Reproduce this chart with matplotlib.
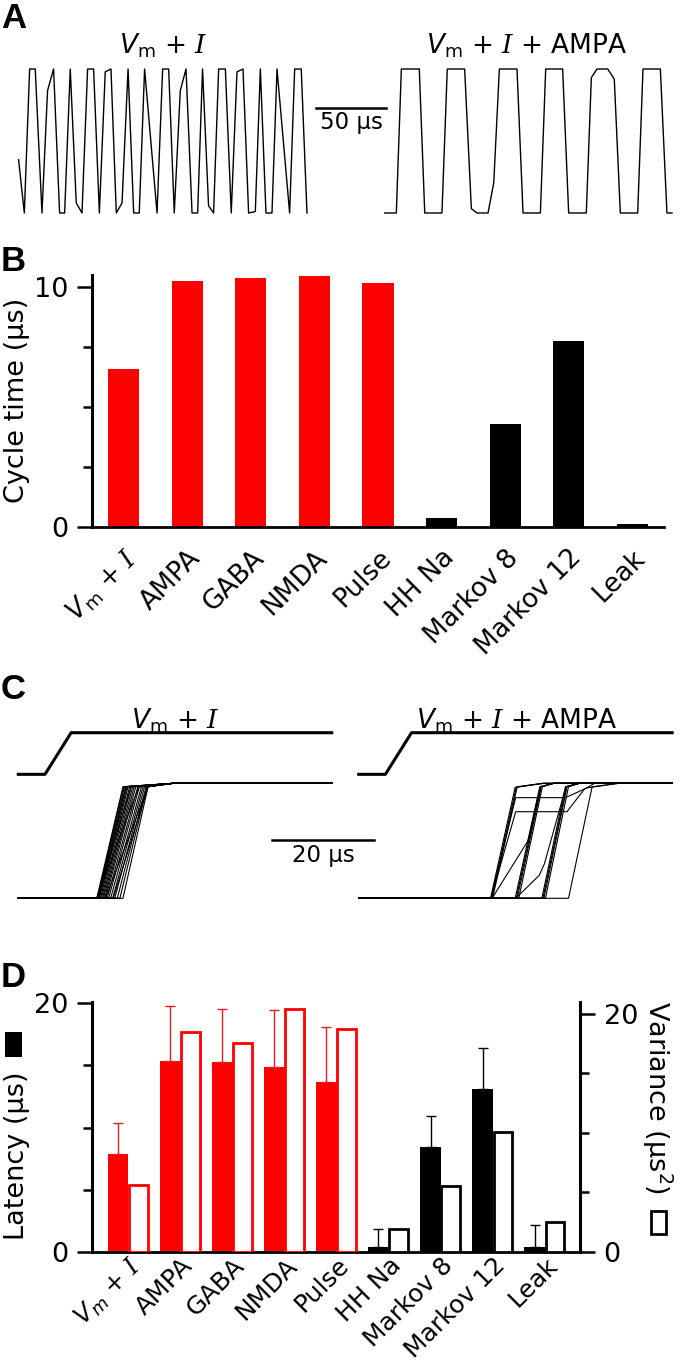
import numpy as np
import matplotlib.pyplot as plt
from matplotlib.patches import Rectangle

plt.rcParams['font.family'] = 'DejaVu Sans'
plt.rcParams['mathtext.fontset'] = 'custom'
plt.rcParams['mathtext.rm'] = 'DejaVu Sans'
plt.rcParams['mathtext.it'] = 'DejaVu Sans:italic'
plt.rcParams['mathtext.sf'] = 'DejaVu Serif:italic'

W, H = 684, 1368

# ---- panel A: oscillation traces (time in us, normalised voltage)
a_left_t = [0.2, 4.3, 8.1, 12.1, 16.9, 20.9, 25.2, 29.5, 33.1, 37.1, 41.4, 45.5, 49.5,
            53.8, 57.9, 62.1, 66.2, 70.0, 74.1, 78.4, 82.4, 86.4, 90.2, 99.1, 103.1,
            107.4, 111.4, 115.7, 119.8, 124.1, 128.1, 131.6, 135.9, 139.5, 143.1, 147.9,
            152.1, 156.2, 160.5, 164.5, 169.3, 172.9, 176.9, 181.2, 184.8, 193.8, 197.4,
            202.1, 206.2]
a_left_v = [0.37, 0, 1, 1, 0, 0.85, 1, 0, 0, 1, 0.07, 0, 1, 1, 0, 0.98, 1, 0, 0.07, 1,
            0, 0, 1, 0, 1, 1, 0, 0.85, 1, 0, 0, 1, 0.05, 0, 1, 1, 0, 0.98, 1, 0, 0.01, 1,
            0, 0, 1, 0, 1, 1, 0]
a_right_t = [0, 8.3, 11.9, 24.7, 28.6, 40.9, 44.7, 57.1, 61.9, 65.9, 73.8, 77.9, 81.9,
             94.5, 98.8, 111.2, 115.0, 127.1, 131.4, 144.0, 147.6, 151.6, 159.3, 164.0,
             168.3, 180.7, 184.5, 196.9, 201.6, 205.2]
a_right_v = [0, 0, 1, 1, 0, 0, 1, 1, 0.03, 0, 0, 0.21, 1, 1, 0, 0, 1, 1, 0, 0, 0.94, 1,
             1, 0.93, 0, 0, 1, 1, 0, 0]

# ---- panel B: cycle time
conditions = ['$V_{\\mathrm{m}}$ + $\\mathsf{I}$', 'AMPA', 'GABA', 'NMDA', 'Pulse',
              'HH Na', 'Markov 8', 'Markov 12', 'Leak']
conditions_d = ['$V_m$ + $\\mathsf{I}$', 'AMPA', 'GABA', 'NMDA', 'Pulse',
                'HH Na', 'Markov 8', 'Markov 12', 'Leak']
cycle_time = [6.56, 10.25, 10.35, 10.46, 10.14, 0.35, 4.26, 7.75, 0.10]

# ---- panel C: voltage step and responses
stim_t = [0, 5.2, 10.3, 61.1]
stim_v = [1.078, 1.078, 1.44, 1.44]
c_left_start = [15.3, 15.3, 15.3, 15.4, 15.5, 15.6, 15.7, 15.8, 16.0, 16.2, 16.4, 16.6,
                16.8, 17.0, 17.3, 17.6, 18.0, 18.4, 18.8, 19.3, 19.8, 20.4, 17.0, 18.5]
c_left_end = [22.0, 23.5, 20.4, 20.5, 20.7, 20.9, 21.0, 21.2, 21.4, 21.7, 22.0, 22.3,
              22.6, 22.9, 23.3, 23.6, 24.0, 24.3, 24.6, 24.9, 25.1, 25.3, 25.3, 25.3]
c_right_traces = [
    [(0, 0), (25.7, 0), (30.5, 0.965), (36.0, 1), (61.1, 1)],
    [(0, 0), (25.9, 0), (30.7, 0.965), (36.0, 1), (61.1, 1)],
    [(0, 0), (26.1, 0), (30.9, 0.97), (36.0, 1), (61.1, 1)],
    [(0, 0), (25.8, 0), (30.6, 0.875), (40.3, 0.875), (44.5, 0.96), (50.7, 1), (61.1, 1)],
    [(0, 0), (25.8, 0), (30.6, 0.753), (40.6, 0.753), (44.0, 0.95), (46.0, 1), (61.1, 1)],
    [(0, 0), (26.0, 0), (33.0, 0.5), (35.4, 0.97), (38.0, 1), (61.1, 1)],
    [(0, 0), (30.5, 0), (35.3, 0.97), (38.0, 1), (61.1, 1)],
    [(0, 0), (30.7, 0), (35.5, 0.97), (38.0, 1), (61.1, 1)],
    [(0, 0), (30.9, 0), (35.6, 0.97), (38.0, 1), (61.1, 1)],
    [(0, 0), (31.2, 0), (35.8, 0.97), (38.0, 1), (61.1, 1)],
    [(0, 0), (30.6, 0), (35.2, 0.2), (36.2, 0.3), (40.4, 0.97), (43.0, 1), (61.1, 1)],
    [(0, 0), (35.7, 0), (40.3, 0.97), (43.0, 1), (61.1, 1)],
    [(0, 0), (35.9, 0), (40.5, 0.97), (43.0, 1), (61.1, 1)],
    [(0, 0), (36.1, 0), (40.6, 0.97), (43.0, 1), (61.1, 1)],
    [(0, 0), (36.4, 0), (40.9, 0.97), (43.0, 1), (61.1, 1)],
    [(0, 0), (40.9, 0), (45.5, 0.97), (50.7, 1), (61.1, 1)],
]

# ---- panel D: latency (mean + sd) and variance
latency = [7.84, 15.38, 15.30, 14.90, 13.69, 0.35, 8.45, 13.10, 0.40]
latency_sd = [2.50, 4.42, 4.24, 4.56, 4.43, 1.48, 2.48, 3.33, 1.75]
variance = [5.61, 18.52, 17.54, 20.43, 18.72, 1.88, 5.56, 10.10, 2.47]

colors = ['#ff0000'] * 5 + ['black'] * 4

fig = plt.figure(figsize=(W / 100, H / 100), dpi=100)


def px_axes(left, top, right, bottom):
    return fig.add_axes([left / W, 1 - bottom / H, (right - left) / W, (bottom - top) / H])


def fx(px):
    return px / W


def fy(py):
    return 1 - py / H


# panel letters
for letter, yb in [('A', 28), ('B', 271), ('C', 699), ('D', 987)]:
    fig.text(fx(1), fy(yb), letter, fontsize=25, fontweight='bold',
             family='Liberation Sans', va='baseline', ha='left')

# ---------------- A
sa = 1.4  # px per us
axA = px_axes(0, 69, W, 213)
axA.set_xlim(0, W / sa)
axA.set_ylim(0, 1)
axA.axis('off')
axA.plot(np.array(a_left_t) + 18.3 / sa, a_left_v, color='k', lw=1.0, clip_on=False)
axA.plot(np.array(a_right_t) + 384.7 / sa, a_right_v, color='k', lw=1.0, clip_on=False)
axA.plot([316 / sa, 316 / sa + 50], [0.729, 0.729], color='k', lw=1.8)
axA.text(316 / sa + 25, 0.625, '50 µs', ha='center', va='center', fontsize=16.5)
axA.text(163 / sa, 1.111, '$V_{\\mathrm{m}}$ + $\\mathsf{I}$', ha='center', va='baseline',
         fontsize=19)
axA.text(527 / sa, 1.111, '$V_{\\mathrm{m}}$ + $\\mathsf{I}$ + AMPA', ha='center', va='baseline',
         fontsize=19)

# ---------------- B
x = np.arange(len(cycle_time))
axB = px_axes(92.3, 274.7, 664, 526.7)
axB.bar(x, cycle_time, width=0.49, color=colors)
axB.set_xlim(-0.495, 8.5)
axB.set_ylim(0, 10.5)
for s in ['top', 'right']:
    axB.spines[s].set_visible(False)
axB.spines['left'].set_linewidth(2.2)
axB.spines['bottom'].set_linewidth(2.0)
axB.set_yticks([0, 10])
axB.set_yticks([2.5, 5, 7.5], minor=True)
axB.tick_params(axis='y', which='major', length=11, width=1.8, pad=6, labelsize=19.5)
axB.tick_params(axis='y', which='minor', length=6.5, width=1.8)
axB.set_xticks(x)
axB.set_xticklabels(conditions, rotation=45, ha='right', va='top', rotation_mode='anchor',
                    fontsize=19)
axB.tick_params(axis='x', length=0, pad=13)
axB.set_ylabel('Cycle time (µs)', fontsize=19.5, va='center')
axB.yaxis.set_label_coords((17 - 92.3) / (664 - 92.3), 0.5)

# ---------------- C
sc = 5.13  # px per us
axC = px_axes(0, 783.3, W, 898.3)
axC.set_xlim(0, W / sc)
axC.set_ylim(0, 1)
axC.axis('off')
off_l, off_r = 18.3 / sc, 358.7 / sc
axC.plot(np.array(stim_t) + off_l, stim_v, color='k', lw=2.2, clip_on=False)
axC.plot(np.array(stim_t) + off_r, stim_v, color='k', lw=2.2, clip_on=False)
for s0, e0 in zip(c_left_start, c_left_end):
    axC.plot(np.array([0, s0, e0, 30.2, 61.1]) + off_l, [0, 0, 0.97, 1, 1], color='k',
             lw=0.8, clip_on=False)
for tr in c_right_traces:
    tt, vv = zip(*tr)
    axC.plot(np.array(tt) + off_r, vv, color='k', lw=0.8, clip_on=False)
axC.plot([271.7 / sc, 271.7 / sc + 20], [0.507, 0.507], color='k', lw=1.8)
axC.text(271.7 / sc + 10, 0.368, '20 µs', ha='center', va='center', fontsize=16.5)
axC.text(175 / sc, 1.48, '$V_{\\mathrm{m}}$ + $\\mathsf{I}$', ha='center', va='baseline',
         fontsize=19)
axC.text(517 / sc, 1.48, '$V_{\\mathrm{m}}$ + $\\mathsf{I}$ + AMPA', ha='center', va='baseline',
         fontsize=19)

# ---------------- D
axD = px_axes(92.3, 1001.7, 580, 1251.7)
axD2 = axD.twinx()
axD.bar(x - 0.2, latency, width=0.4, color=colors)
z = np.zeros(len(x))
axD.errorbar(x[:5] - 0.2, latency[:5], yerr=[z[:5], latency_sd[:5]], fmt='none',
             ecolor='#e02020', elinewidth=1.0, capsize=3.5, capthick=1.0)
axD.errorbar(x[5:] - 0.2, latency[5:], yerr=[z[5:], latency_sd[5:]], fmt='none',
             ecolor='black', elinewidth=1.0, capsize=3.5, capthick=1.0)
axD2.bar(x + 0.19, variance, width=0.36, facecolor='white', edgecolor=colors, linewidth=2.0)
axD.set_xlim(-0.695, 8.67)
axD.set_ylim(0, 20.13)
axD2.set_ylim(0, 21.03)
for s in ['top', 'right']:
    axD.spines[s].set_visible(False)
for s in ['top', 'left', 'bottom']:
    axD2.spines[s].set_visible(False)
axD.spines['left'].set_linewidth(2.2)
axD.spines['bottom'].set_linewidth(2.0)
axD2.spines['right'].set_linewidth(2.2)
for ax in (axD, axD2):
    ax.set_yticks([0, 20])
    ax.set_yticks([5, 10, 15], minor=True)
    ax.tick_params(axis='y', which='major', length=11, width=1.8, pad=6, labelsize=19.5)
    ax.tick_params(axis='y', which='minor', length=6.5, width=1.8)
axD.set_xticks(x)
axD.set_xticklabels(conditions_d, rotation=45, ha='right', va='top', rotation_mode='anchor',
                    fontsize=18)
axD.tick_params(axis='x', length=0, pad=1)

fig.text(fx(17), fy(1156), 'Latency (µs)', rotation=90, ha='center', va='center', fontsize=19.5)
fig.add_artist(Rectangle((fx(5), fy(1057)), 17 / W, 25 / H, facecolor='black',
                         edgecolor='none', transform=fig.transFigure))
fig.text(fx(657), fy(1098), 'Variance (µs$^{2}$)', rotation=270, ha='center', va='center',
         fontsize=19.5)
fig.add_artist(Rectangle((fx(651), fy(1234)), 15 / W, 23 / H, facecolor='white',
                         edgecolor='black', linewidth=2.0, transform=fig.transFigure))

fig.savefig('out.png', dpi=100)
